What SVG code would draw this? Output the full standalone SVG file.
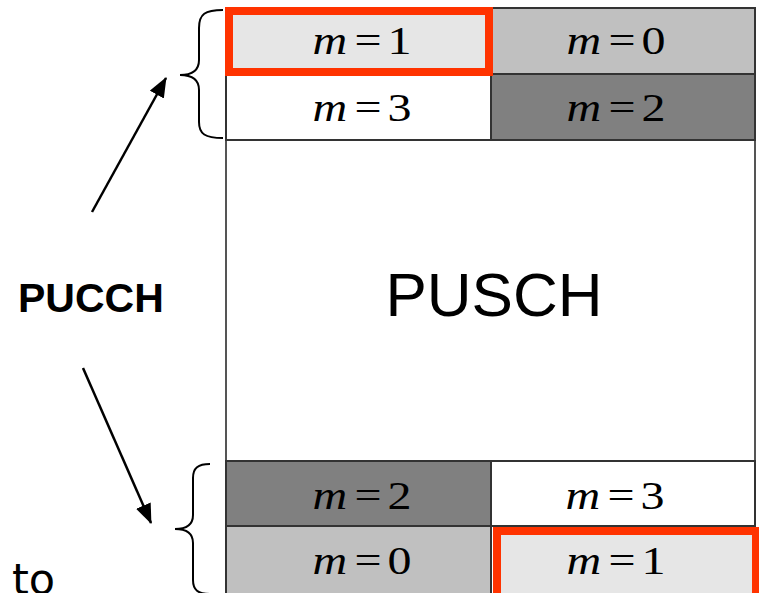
<svg xmlns="http://www.w3.org/2000/svg" width="759" height="593" viewBox="0 0 759 593">
<style>
.cell{stroke:#333;stroke-width:2}
.sel{fill:#e6e6e6;stroke:#ff3300;stroke-width:8}
.m{font-family:"Liberation Serif","Times New Roman",serif;font-size:40px;fill:#000}
.it{font-style:italic}
.brace{fill:none;stroke:#000;stroke-width:2}
.arr{stroke:#000;stroke-width:2.5;fill:none}
</style>
<defs>
<marker id="ah" markerUnits="userSpaceOnUse" markerWidth="20" markerHeight="16" refX="19" refY="8" orient="auto" viewBox="0 0 20 16">
<path d="M0,0 L20,8 L0,16 z" fill="#000"/>
</marker>
</defs>
<rect width="759" height="593" fill="#fff"/>
<g id="frame">
<line x1="226" y1="7" x2="226" y2="593" stroke="#555" stroke-width="2"/>
<line x1="755" y1="7" x2="755" y2="593" stroke="#555" stroke-width="2"/>
</g>
<g id="top-m0"><rect class="cell" x="491" y="8" width="264" height="66" fill="#c0c0c0"/>
<text class="m" transform="translate(616,54) scale(1.2,1)" text-anchor="middle"><tspan class="it">m</tspan><tspan dx="6">=</tspan><tspan dx="5">0</tspan></text></g>
<g id="top-m3"><rect class="cell" x="226" y="74" width="265" height="66" fill="#fff"/>
<text class="m" transform="translate(362,121) scale(1.2,1)" text-anchor="middle"><tspan class="it">m</tspan><tspan dx="6">=</tspan><tspan dx="5">3</tspan></text></g>
<g id="top-m2"><rect class="cell" x="491" y="74" width="264" height="66" fill="#808080"/>
<text class="m" transform="translate(616,121) scale(1.2,1)" text-anchor="middle"><tspan class="it">m</tspan><tspan dx="6">=</tspan><tspan dx="5">2</tspan></text></g>
<g id="top-m1"><rect class="sel" x="229" y="11" width="260" height="61"/>
<text class="m" transform="translate(362,54) scale(1.2,1)" text-anchor="middle"><tspan class="it">m</tspan><tspan dx="6">=</tspan><tspan dx="5">1</tspan></text></g>
<g id="pusch"><text x="494" y="316" text-anchor="middle" font-family="Liberation Sans, Arial, sans-serif" font-size="62">PUSCH</text></g>
<g id="bot-m2"><rect class="cell" x="226" y="461" width="265" height="65" fill="#808080"/>
<text class="m" transform="translate(362,509) scale(1.2,1)" text-anchor="middle"><tspan class="it">m</tspan><tspan dx="6">=</tspan><tspan dx="5">2</tspan></text></g>
<g id="bot-m3"><rect class="cell" x="491" y="461" width="264" height="65" fill="#fff"/>
<text class="m" transform="translate(615,509) scale(1.2,1)" text-anchor="middle"><tspan class="it">m</tspan><tspan dx="6">=</tspan><tspan dx="5">3</tspan></text></g>
<g id="bot-m0"><rect class="cell" x="226" y="526" width="265" height="70" fill="#c0c0c0"/>
<text class="m" transform="translate(362,574) scale(1.2,1)" text-anchor="middle"><tspan class="it">m</tspan><tspan dx="6">=</tspan><tspan dx="5">0</tspan></text></g>
<g id="bot-m1"><rect class="sel" x="497" y="531" width="259" height="66"/>
<text class="m" transform="translate(616,574) scale(1.2,1)" text-anchor="middle"><tspan class="it">m</tspan><tspan dx="6">=</tspan><tspan dx="5">1</tspan></text></g>
<g id="pucch"><text x="18" y="312" font-family="Liberation Sans, Arial, sans-serif" font-size="41" font-weight="bold">PUCCH</text></g>
<g id="to"><text x="12" y="594" font-family="DejaVu Sans, sans-serif" font-size="43">to</text></g>
<g id="braces">
<path class="brace" d="M223,10 C205,10 199,14 199,28 L199,60 C199,70 192,75 180,75 C192,75 199,80 199,90 L199,122 C199,134 205,138 223,138"/>
<path class="brace" d="M210,464 C198,464 193,468 193,478 L193,515 C193,524 187,529 175,529 C187,529 193,534 193,543 L193,580 C193,590 198,594 210,594"/>
</g>
<g id="connectors">
<line class="arr" x1="92" y1="212" x2="166" y2="78" marker-end="url(#ah)"/>
<line class="arr" x1="83" y1="368" x2="151" y2="523" marker-end="url(#ah)"/>
</g>
</svg>
